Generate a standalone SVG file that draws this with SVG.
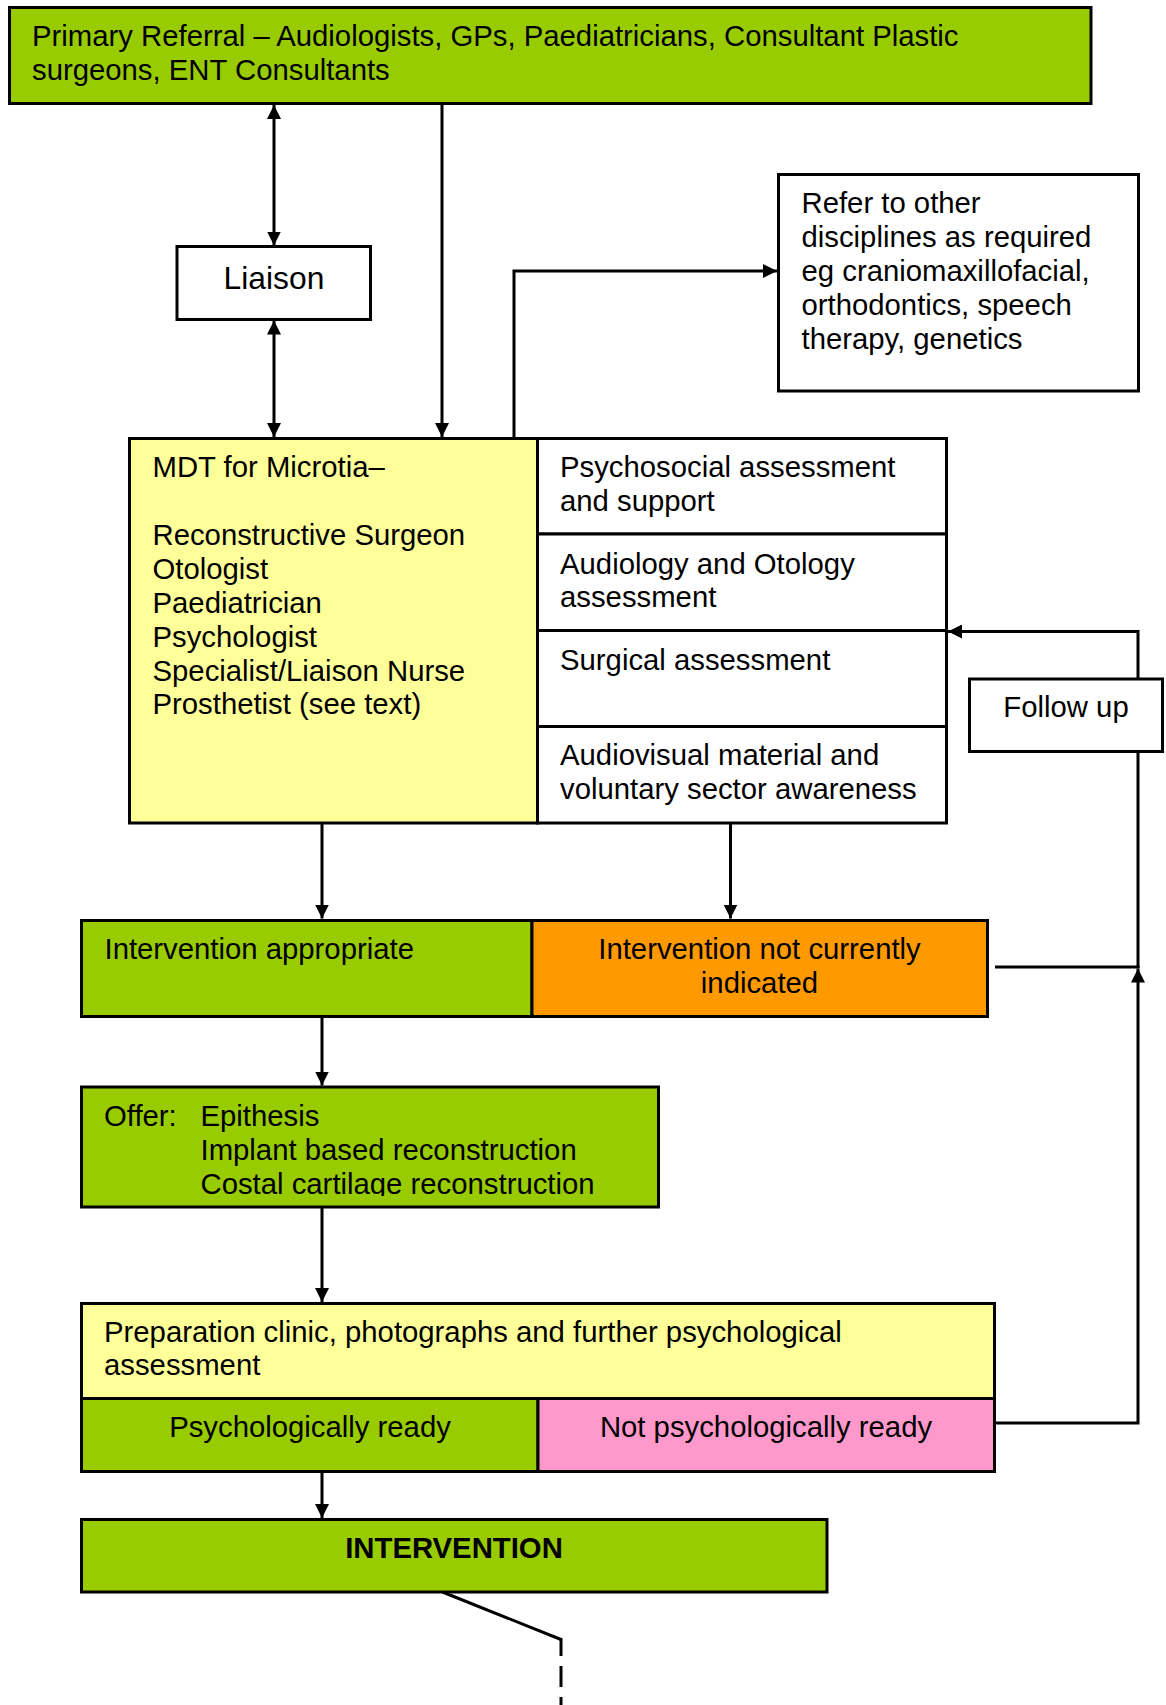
<svg xmlns="http://www.w3.org/2000/svg" width="1166" height="1705" viewBox="0 0 1166 1705">
<style>
text{font-family:"Liberation Sans",Arial,sans-serif;font-size:29.3px;fill:#000}
.c{text-anchor:middle}
.b{font-weight:bold}
.box{stroke:#000;stroke-width:3}
.g{fill:#99CC00}.y{fill:#FFFF99}.o{fill:#FF9900}.p{fill:#FF99CC}.w{fill:#FFFFFF}
.ln{fill:none;stroke:#000;stroke-width:3}
.ar{marker-end:url(#ah)}
.dbl{marker-start:url(#ah);marker-end:url(#ah)}
</style>
<defs>
<marker id="ah" viewBox="0 0 14 14" markerWidth="14" markerHeight="14" refX="14" refY="7" orient="auto-start-reverse" markerUnits="userSpaceOnUse">
<path d="M0,0 L14,7 L0,14 z" fill="#000"/>
</marker>
<clipPath id="offerclip"><rect x="82" y="1088" width="575" height="108"/></clipPath>
</defs>
<rect width="1166" height="1705" fill="#FFFFFF"/>

<g id="connectors">
<path class="ln dbl" d="M274,105 V245.5"/>
<path class="ln dbl" d="M274,320.5 V437"/>
<path class="ln ar" d="M442,105 V437"/>
<path class="ln ar" d="M514,437 V271 H777"/>
<path class="ln ar" d="M322,824 V918.5"/>
<path class="ln ar" d="M730.5,824 V918.5"/>
<path class="ln ar" d="M322,1018 V1085.5"/>
<path class="ln ar" d="M322,1208 V1302"/>
<path class="ln ar" d="M322,1472 V1518"/>
<path class="ln ar" d="M995,1423 H1138 V968.5"/>
<path class="ln" d="M995,967 H1139.5"/>
<path class="ln" d="M1138,968 V752"/>
<path class="ln ar" d="M1138,679 V631.5 H948"/>
<path class="ln" d="M442.5,1592 L561,1639.5"/>
<path class="ln" d="M561,1638 V1705" stroke-dasharray="21 10" stroke-dashoffset="3"/>
</g>

<g id="primary-referral">
<rect class="box g" x="9.5" y="7.5" width="1081.5" height="96"/>
<text x="32" y="46">Primary Referral – Audiologists, GPs, Paediatricians, Consultant Plastic</text>
<text x="32" y="80">surgeons, ENT Consultants</text>
</g>

<g id="liaison">
<rect class="box w" x="177" y="246.5" width="193.5" height="73"/>
<text class="c" x="274" y="288.5" style="font-size:31.8px">Liaison</text>
</g>

<g id="refer-other">
<rect class="box w" x="778.5" y="174.5" width="360" height="216.5"/>
<text x="801.5" y="213">Refer to other</text>
<text x="801.5" y="247">disciplines as required</text>
<text x="801.5" y="281">eg craniomaxillofacial,</text>
<text x="801.5" y="315">orthodontics, speech</text>
<text x="801.5" y="349">therapy, genetics</text>
</g>

<g id="mdt">
<rect class="box y" x="129.5" y="438.5" width="408" height="384.5"/>
<text x="152.5" y="477">MDT for Microtia–</text>
<text x="152.5" y="545">Reconstructive Surgeon</text>
<text x="152.5" y="578.5">Otologist</text>
<text x="152.5" y="612.5">Paediatrician</text>
<text x="152.5" y="646.5">Psychologist</text>
<text x="152.5" y="680.5">Specialist/Liaison Nurse</text>
<text x="152.5" y="713.5">Prosthetist (see text)</text>
</g>

<g id="psychosocial">
<rect class="box w" x="537.5" y="438.5" width="409" height="95.5"/>
<text x="560" y="477">Psychosocial assessment</text>
<text x="560" y="511">and support</text>
</g>

<g id="audiology">
<rect class="box w" x="537.5" y="534" width="409" height="96.5"/>
<text x="560" y="573.5">Audiology and Otology</text>
<text x="560" y="607">assessment</text>
</g>

<g id="surgical">
<rect class="box w" x="537.5" y="630.5" width="409" height="96"/>
<text x="560" y="669.5">Surgical assessment</text>
</g>

<g id="audiovisual">
<rect class="box w" x="537.5" y="726.5" width="409" height="96.5"/>
<text x="560" y="765">Audiovisual material and</text>
<text x="560" y="798.5">voluntary sector awareness</text>
</g>

<g id="follow-up">
<rect class="box w" x="969.5" y="679" width="193" height="72.5"/>
<text class="c" x="1066" y="717">Follow up</text>
</g>

<g id="intervention-appropriate">
<rect class="box g" x="81.5" y="920.5" width="450.5" height="96"/>
<text x="104.5" y="959">Intervention appropriate</text>
</g>

<g id="intervention-not-indicated">
<rect class="box o" x="532" y="920.5" width="455.5" height="96"/>
<text class="c" x="759.5" y="959">Intervention not currently</text>
<text class="c" x="759.5" y="992.5">indicated</text>
</g>

<g id="offer">
<rect class="box g" x="81.5" y="1087" width="577" height="120"/>
<g clip-path="url(#offerclip)">
<text x="104" y="1125.5">Offer:</text>
<text x="200.5" y="1125.5">Epithesis</text>
<text x="200.5" y="1159.5">Implant based reconstruction</text>
<text x="200.5" y="1193.5">Costal cartilage reconstruction</text>
</g>
</g>

<g id="preparation">
<rect class="box y" x="81.5" y="1303.5" width="913" height="95"/>
<text x="104" y="1341.5">Preparation clinic, photographs and further psychological</text>
<text x="104" y="1375">assessment</text>
</g>

<g id="psych-ready">
<rect class="box g" x="81.5" y="1398.5" width="456.5" height="73"/>
<text class="c" x="310" y="1436.5">Psychologically ready</text>
</g>

<g id="not-psych-ready">
<rect class="box p" x="538" y="1398.5" width="456.5" height="73"/>
<text class="c" x="766" y="1436.5">Not psychologically ready</text>
</g>

<g id="intervention">
<rect class="box g" x="81.5" y="1519.5" width="745.5" height="72.5"/>
<text class="c b" x="454" y="1558">INTERVENTION</text>
</g>
</svg>
